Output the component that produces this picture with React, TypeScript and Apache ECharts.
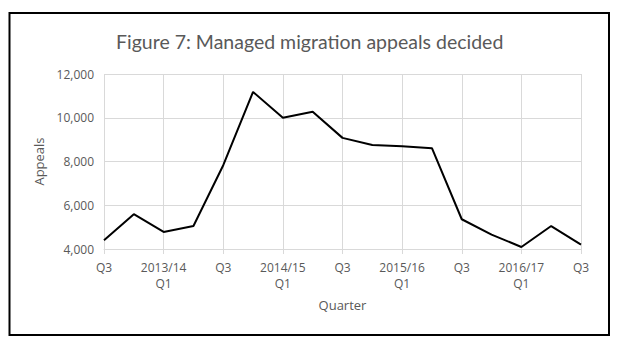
import React, { useEffect, useRef } from "react";
import * as echarts from "echarts";

const quarters = [
  "Q3", "Q4", "2013/14\nQ1", "Q2", "Q3", "Q4", "2014/15\nQ1", "Q2", "Q3", "Q4",
  "2015/16\nQ1", "Q2", "Q3", "Q4", "2016/17\nQ1", "Q2", "Q3",
];
const appeals = [
  4400, 5590, 4780, 5050, 7830, 11180, 10000, 10270, 9080, 8750,
  8700, 8610, 5360, 4660, 4090, 5050, 4200,
];
const yTicks = [4000, 6000, 8000, 10000, 12000];

const FONT = "'Open Sans', sans-serif";
const TITLE_FONT = "Lato, 'Open Sans', sans-serif";
const GREY = "#595959";

export default function App() {
  const ref = useRef<HTMLDivElement>(null);
  useEffect(() => {
    if (!ref.current) return;
    const chart = echarts.init(ref.current, null, { renderer: "svg" });
    chart.setOption({
      animation: false,
      backgroundColor: "#ffffff",
      title: {
        text: "Figure 7: Managed migration appeals decided",
        left: 111,
        top: 26,
        textStyle: { fontFamily: TITLE_FONT, fontSize: 19.5, fontWeight: "normal", color: GREY },
      },
      graphic: [
        {
          type: "rect",
          shape: { x: 9.5, y: 13, width: 599.5, height: 322 },
          style: { fill: "none", stroke: "#000", lineWidth: 2 },
          silent: true,
        },
      ],
      grid: { left: 104, right: 49, top: 74, bottom: 103 },
      xAxis: {
        type: "category",
        data: quarters,
        boundaryGap: false,
        name: "Quarter",
        nameLocation: "middle",
        nameGap: 49,
        nameTextStyle: { fontFamily: FONT, fontSize: 13, color: GREY },
        axisLine: { lineStyle: { color: "#d9d9d9", width: 1 } },
        axisTick: { show: true, interval: 1, length: 5, lineStyle: { color: "#d9d9d9" } },
        axisLabel: {
          interval: 1,
          fontFamily: FONT,
          fontSize: 12,
          color: GREY,
          margin: 10,
          lineHeight: 16,
        },
        splitLine: { show: true, interval: 1, lineStyle: { color: "#d9d9d9", width: 1 } },
      },
      yAxis: {
        type: "value",
        min: yTicks[0],
        max: yTicks[yTicks.length - 1],
        interval: 2000,
        name: "Appeals",
        nameLocation: "middle",
        nameGap: 52,
        nameRotate: 90,
        nameTextStyle: { fontFamily: FONT, fontSize: 13, color: GREY },
        axisLine: { show: false },
        axisTick: { show: false },
        axisLabel: {
          fontFamily: FONT,
          fontSize: 12,
          color: GREY,
          margin: 10,
          formatter: (v: number) => v.toLocaleString("en-US"),
        },
        splitLine: { show: true, lineStyle: { color: "#d9d9d9", width: 1 } },
      },
      series: [
        {
          type: "line",
          data: appeals,
          symbol: "none",
          lineStyle: { color: "#000000", width: 2 },
        },
      ],
    });
    return () => chart.dispose();
  }, []);
  return (
    <div
      ref={ref}
      style={{ position: "fixed", left: 0, top: 0, width: 630, height: 352 }}
    />
  );
}
